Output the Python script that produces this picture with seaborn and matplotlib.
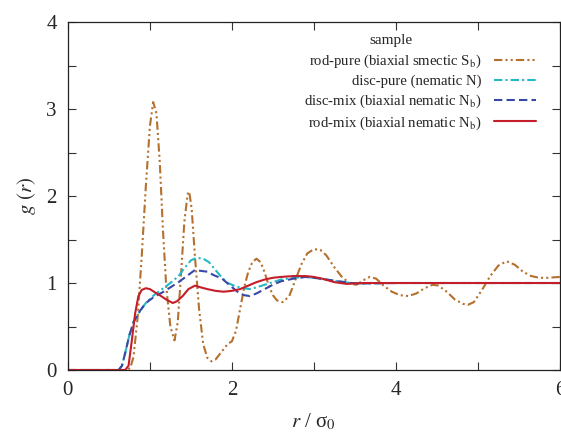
import matplotlib
matplotlib.use("Agg")
import matplotlib.pyplot as plt
import seaborn as sns
import pandas as pd
from matplotlib.ticker import MultipleLocator

# ---- data ----
rod_pure_r = [0.0, 0.70, 0.76, 0.80, 0.85, 0.90, 0.95, 1.00, 1.04, 1.08, 1.12, 1.16, 1.20, 1.25, 1.30,
              1.34, 1.38, 1.42, 1.46, 1.48, 1.51, 1.55, 1.60, 1.65, 1.70, 1.75, 1.80, 1.85, 1.90, 1.95,
              2.00, 2.05, 2.10, 2.15, 2.20, 2.25, 2.30, 2.35, 2.40, 2.45, 2.50, 2.55, 2.62, 2.70, 2.78,
              2.85, 2.92, 3.00, 3.08, 3.15, 3.25, 3.35, 3.45, 3.52, 3.60, 3.68, 3.76, 3.85, 3.95, 4.05,
              4.15, 4.25, 4.35, 4.45, 4.52, 4.62, 4.72, 4.82, 4.88, 4.95, 5.05, 5.15, 5.25, 5.35, 5.45,
              5.55, 5.65, 5.75, 5.85, 6.0]
rod_pure_g = [0.0, 0.0, 0.02, 0.15, 0.6, 1.3, 2.1, 2.8, 3.08, 2.95, 2.4, 1.6, 0.95, 0.5, 0.34,
              0.55, 1.1, 1.7, 2.02, 2.05, 1.85, 1.3, 0.7, 0.3, 0.14, 0.10, 0.12, 0.18, 0.24, 0.30,
              0.33, 0.45, 0.7, 0.95, 1.13, 1.24, 1.28, 1.24, 1.12, 0.97, 0.86, 0.80, 0.78, 0.85, 1.05,
              1.22, 1.34, 1.39, 1.38, 1.32, 1.18, 1.06, 0.99, 0.98, 1.03, 1.07, 1.05, 0.97, 0.90, 0.86,
              0.85, 0.88, 0.94, 0.98, 0.97, 0.90, 0.81, 0.76, 0.75, 0.78, 0.92, 1.08, 1.20, 1.25, 1.21,
              1.13, 1.08, 1.06, 1.06, 1.07]

disc_pure_r = [0.0, 0.62, 0.66, 0.70, 0.75, 0.80, 0.88, 0.95, 1.05, 1.15, 1.25, 1.35, 1.42, 1.50, 1.57,
               1.65, 1.72, 1.80, 1.87, 1.95, 2.05, 2.15, 2.22, 2.30, 2.40, 2.50, 2.60, 2.75, 2.90, 3.00,
               3.15, 3.30, 3.45, 3.60, 4.0, 4.5, 5.0, 5.5, 6.0]
disc_pure_g = [0.0, 0.0, 0.05, 0.2, 0.4, 0.55, 0.68, 0.77, 0.86, 0.93, 1.0, 1.08, 1.17, 1.26, 1.29,
               1.28, 1.24, 1.15, 1.07, 1.0, 0.96, 0.94, 0.93, 0.95, 0.98, 1.01, 1.04, 1.06, 1.07, 1.06,
               1.04, 1.02, 1.0, 0.995, 1.0, 1.0, 1.0, 1.0, 1.0]

disc_mix_r = [0.0, 0.62, 0.66, 0.70, 0.75, 0.80, 0.88, 0.95, 1.05, 1.15, 1.25, 1.35, 1.45, 1.55, 1.62,
              1.70, 1.78, 1.88, 1.98, 2.08, 2.15, 2.22, 2.30, 2.40, 2.50, 2.60, 2.75, 2.90, 3.00, 3.15,
              3.30, 3.45, 3.60, 4.0, 4.5, 5.0, 5.5, 6.0]
disc_mix_g = [0.0, 0.0, 0.05, 0.2, 0.4, 0.55, 0.68, 0.77, 0.84, 0.89, 0.95, 1.01, 1.08, 1.15, 1.14,
              1.13, 1.09, 1.05, 0.97, 0.89, 0.86, 0.85, 0.88, 0.93, 0.98, 1.02, 1.05, 1.07, 1.06, 1.04,
              1.02, 1.0, 0.995, 1.0, 1.0, 1.0, 1.0, 1.0]

rod_mix_r = [0.0, 0.70, 0.74, 0.78, 0.82, 0.86, 0.90, 0.95, 1.00, 1.05, 1.12, 1.20, 1.28, 1.33, 1.40,
             1.47, 1.55, 1.62, 1.70, 1.80, 1.90, 2.00, 2.10, 2.20, 2.30, 2.40, 2.50, 2.60, 2.75, 2.90,
             3.00, 3.10, 3.25, 3.40, 3.60, 4.0, 4.5, 5.0, 5.5, 6.0]
rod_mix_g = [0.0, 0.0, 0.05, 0.34, 0.65, 0.85, 0.92, 0.94, 0.93, 0.90, 0.86, 0.81, 0.77, 0.79, 0.85,
             0.93, 0.97, 0.95, 0.93, 0.91, 0.90, 0.91, 0.93, 0.97, 1.01, 1.04, 1.06, 1.07, 1.08, 1.08,
             1.07, 1.05, 1.01, 0.99, 1.0, 1.0, 1.0, 1.0, 1.0, 1.0]

labels = ["rod-pure (biaxial smectic S$_\\mathrm{b}$)",
          "disc-pure (nematic N)",
          "disc-mix (biaxial nematic N$_\\mathrm{b}$)",
          "rod-mix (biaxial nematic N$_\\mathrm{b}$)"]
legend_title = "sample"
colors = ["#b5702e", "#22b8c4", "#3848a4", "#c41e2a"]
dash_styles = [(4, 1.5, 1, 1.5, 1, 1.5), (4, 1.5, 1, 1.5), (4, 2), None]

sns.set_theme(style="ticks")
plt.rcParams["font.family"] = ["Liberation Serif", "DejaVu Serif"]
plt.rcParams["mathtext.fontset"] = "stix"

fig = plt.figure(figsize=(5.61, 4.32), dpi=100)
ax = fig.add_axes([0.121, 0.1435, 0.877, 0.8055])

series = [(rod_pure_r, rod_pure_g), (disc_pure_r, disc_pure_g),
          (disc_mix_r, disc_mix_g), (rod_mix_r, rod_mix_g)]
handles = []
for (r, g), lab, c, d in zip(series, labels, colors, dash_styles):
    df = pd.DataFrame({"r": r, "g": g})
    sns.lineplot(data=df, x="r", y="g", ax=ax, color=c, lw=1.5, estimator=None, sort=False)
    line = ax.lines[-1]
    if d is not None:
        line.set_dashes(d)
    line.set_label(lab)
    handles.append(line)

ax.set_xlim(0, 6)
ax.set_ylim(0, 4)
ax.xaxis.set_major_locator(MultipleLocator(2))
ax.xaxis.set_minor_locator(MultipleLocator(1))
ax.yaxis.set_major_locator(MultipleLocator(1))
ax.yaxis.set_minor_locator(MultipleLocator(0.5))
ax.tick_params(which="both", direction="in", top=True, right=True, labelsize=15, color="#333333")
ax.tick_params(which="major", length=6, width=0.8, pad=8)
ax.tick_params(which="minor", length=6, width=0.8)
for s in ax.spines.values():
    s.set_color("#222222")
    s.set_linewidth(0.9)

ax.set_xlabel("$r$ / σ$_0$", fontsize=15, labelpad=8)
ax.set_ylabel("$g\\ (r)$", fontsize=15, labelpad=6)

leg = ax.legend(handles=handles, loc="upper right",
                bbox_to_anchor=(0.976, 0.945), frameon=False, markerfirst=False,
                fontsize=10.6, handlelength=2.85, labelspacing=0.3,
                handletextpad=0.85, borderpad=0.3)
ax.text(0.657, 0.948, legend_title, transform=ax.transAxes, ha="center", va="center", fontsize=11)

fig.savefig("out.png", dpi=100)
